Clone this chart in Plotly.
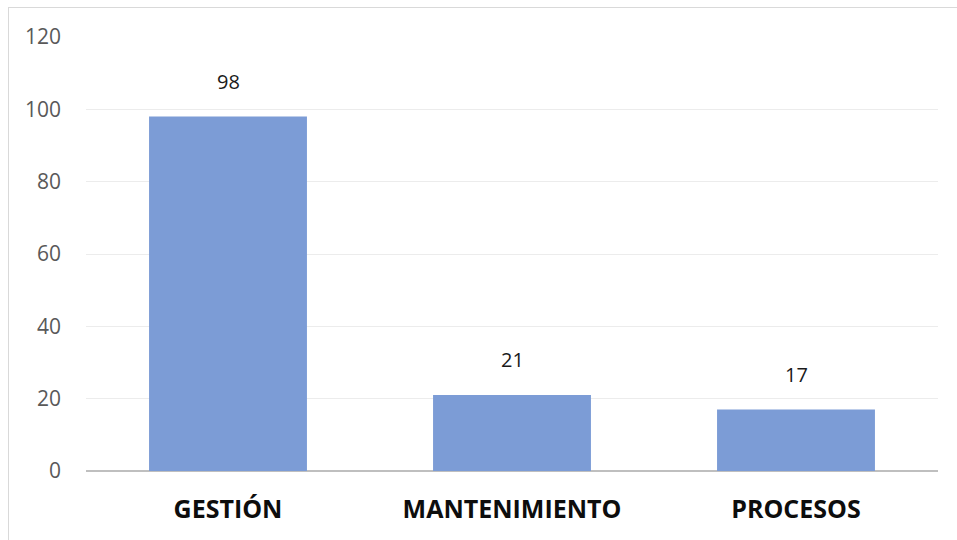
import plotly.graph_objects as go

categories = ["GESTIÓN", "MANTENIMIENTO", "PROCESOS"]
values = [98, 21, 17]
y_ticks = [0, 20, 40, 60, 80, 100, 120]

W, H = 957, 540
ml, mr, mt, mb = 86, 19, 37, 69

fig = go.Figure()
fig.add_trace(go.Bar(
    x=categories, y=values,
    marker=dict(color="#7C9CD6", line=dict(width=0)),
    width=0.556,
    hoverinfo="skip",
))

for c, v in zip(categories, values):
    fig.add_annotation(x=c, y=v, text=str(v), showarrow=False,
                       yanchor="bottom", yshift=20,
                       font=dict(family="Open Sans", size=20, color="#1a1a1a"))

pw = W - ml - mr
ph = H - mt - mb
fig.add_shape(type="line", xref="paper", yref="paper",
              x0=(8 - ml) / pw, x1=(W + 5 - ml) / pw,
              y0=(H - mb - 7.5) / ph, y1=(H - mb - 7.5) / ph,
              line=dict(color="#d9d9d9", width=1))
fig.add_shape(type="line", xref="paper", yref="paper",
              x0=(8.5 - ml) / pw, x1=(8.5 - ml) / pw,
              y0=(H - mb - 7) / ph, y1=(H - mb - H - 5) / ph,
              line=dict(color="#d9d9d9", width=1))

fig.update_layout(
    width=W, height=H,
    margin=dict(l=ml, r=mr, t=mt, b=mb),
    paper_bgcolor="white", plot_bgcolor="white",
    showlegend=False,
    bargap=0.444,
    xaxis=dict(
        showgrid=False, showline=False, zeroline=False,
        ticks="", ticklabelstandoff=21,
        tickfont=dict(family="Open Sans", size=25, color="#0d0d0d", weight="bold"),
    ),
    yaxis=dict(
        range=[0, 120], tickvals=y_ticks,
        showgrid=True, gridcolor="#ececec", gridwidth=1,
        zeroline=True, zerolinecolor="#bfbfbf", zerolinewidth=2,
        showline=False, ticks="", ticklabelstandoff=24,
        tickfont=dict(family="Open Sans", size=21, color="#595959"),
    ),
)

fig.write_html("out.html")
